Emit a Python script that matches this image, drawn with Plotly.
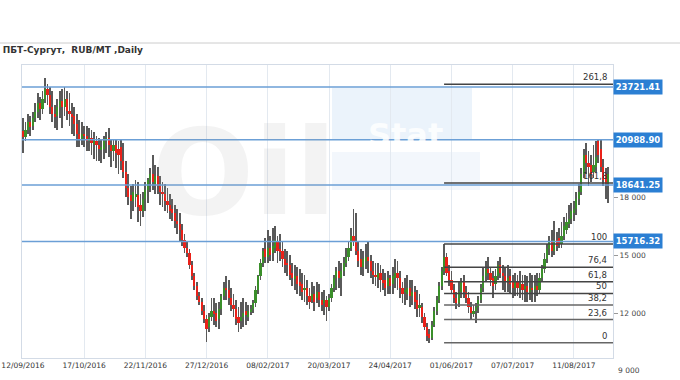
import plotly.graph_objects as go

# ---------------- data (RUB/MT, daily bars) ----------------
opens = [21450,21150,21500,21900,21700,22100,22400,22900,22600,23100,23600,23300,22700,22300,22200,22700,23000,22700,23100,22500,
         22300,22200,21800,21300,21000,21300,21200,20900,21100,20800,20900,20700,20500,20500,20900,21100,20700,20400,20700,20500,
         20600,19900,19300,18500,18100,17800,18000,18100,17600,17300,17900,18400,18900,19200,18700,19100,18600,18300,18200,17800,
         17600,17400,17200,16800,16600,16300,15800,15400,15100,14500,13900,13400,12900,12600,12100,11700,11300,11800,12100,12000,
         11700,12200,12900,13300,13200,12800,12400,12200,11800,11600,11800,12100,11800,12100,12200,12500,13200,13900,14600,15300,
         14900,15400,15100,15400,15700,15300,15200,14800,14600,14500,14100,13800,13900,13600,13500,13200,13300,12900,12700,13000,
         12800,13100,12700,12500,12700,12300,12800,13300,13800,14200,13800,14200,14600,14900,15400,16000,15700,15200,14800,14400,
         14700,14900,14700,14200,14000,13800,14100,13700,13700,13400,13800,13500,13800,14100,13800,13300,13100,13000,13300,12900,
         13100,12700,12300,12300,11800,11300,10900,10700,11400,12100,12700,13400,14200,14900,14200,13700,13200,12800,12500,13100,
         13600,13100,12800,12300,12000,12100,12300,12700,13300,13900,14300,14100,13800,13500,13900,14500,14100,13900,13600,13900,
         13600,13300,13600,13300,13500,13300,13400,13100,13300,13200,13400,13200,13800,14300,14800,15300,15700,15200,15800,15900,
         15600,16000,16300,16600,16900,17200,17400,17900,18300,19200,20200,19800,19700,19300,19600,20900,20500,19600,19200,18700]
highs = [22100,21900,22300,22200,22400,22900,23400,23200,23500,24200,23900,23700,23500,22800,23100,23500,23600,23700,23500,23400,
         22900,22700,22300,22000,21900,21700,21700,21600,21500,21400,21200,21100,21000,21200,21400,21600,21000,21000,21000,20900,
         21000,20800,19900,19200,18600,18700,18900,18800,18200,18300,18800,19000,19500,20200,19700,19600,19100,18800,18700,18500,
         18200,17900,17600,17400,17200,16600,16100,15700,15300,14700,14100,13600,13100,12800,12400,11900,12000,12800,12800,12500,
         12600,13000,13600,13900,13700,13300,13000,12700,12300,12600,12800,12600,12400,12400,12700,13400,14000,14800,15400,15900,
         16300,16000,16400,16500,16000,16100,15700,15300,15200,15000,14600,14500,14400,14300,14100,14000,13700,13300,13600,13400,
         13600,13500,13100,13200,12900,13000,13500,14000,14400,14700,14600,14900,15400,15700,16400,17400,17200,15700,15300,15200,
         15600,15700,15000,14700,14600,14600,14500,14300,14100,14200,14000,14400,14800,14700,14200,13600,13800,14000,13700,13700,
         13400,13200,13000,12500,12000,11500,11200,11600,12300,12900,13600,14400,15580,15100,14500,14200,13500,13100,13600,13800,
         14000,13400,13100,12600,12400,12500,12900,13500,14400,14700,14900,14400,14200,14300,14700,14900,14500,14400,14500,14300,
         14000,14100,14000,14200,14000,14000,13900,14100,14000,14000,14100,14100,14500,15100,15600,16000,16300,16800,16200,16400,
         16700,17000,17200,17600,17700,17800,18300,18700,19500,20500,20800,20400,20200,20700,20900,20990,20990,20000,19500,19600]
lows = [20300,20900,21300,21200,21500,21900,22100,22000,22300,22900,22800,22300,21900,21600,21500,22100,21600,22200,22000,21700,
        21300,21200,20600,20600,20700,20600,20400,20400,20200,20000,19900,19900,19800,20000,20300,20100,19600,19900,19500,19200,
        19400,19000,18000,17600,16900,17300,17500,16700,16500,17000,17300,17700,18300,18400,18200,18200,17600,17500,17300,17200,
        16900,16800,16400,16100,15700,15500,15100,14900,14300,13700,13200,12700,12400,11900,11500,10500,11000,11600,11400,11300,
        11200,11900,12700,12700,12400,12100,11800,11400,11000,11200,11300,11400,11600,11900,12000,12300,13000,13700,14400,14600,
        14600,14700,14700,15100,14600,14700,14400,14100,13900,13700,13400,13200,13000,12900,12700,12600,12400,12200,12500,12100,
        12500,12300,12100,11900,11600,12100,12600,13100,13200,13300,12900,13900,14400,14700,15200,15500,15000,14400,14000,13900,
        14300,14100,13800,13500,13400,13300,13100,13200,12900,13000,13000,13000,13300,13200,12800,12500,12400,12700,12300,12400,
        12200,11800,11800,11500,11100,10550,10460,10600,11300,11900,12500,13200,14000,13900,13400,13000,12500,12200,12300,12800,
        12800,12500,12000,11700,11800,11500,12000,12500,13100,13600,13700,13400,12800,13200,13700,13800,13200,13100,13100,13000,
        12800,12900,12900,12800,12700,12600,12600,12700,12600,12600,12900,13000,13600,14100,14600,15000,14900,15000,15200,15400,
        15400,15800,16100,16400,16600,16800,17100,17600,18100,19000,19200,18600,18800,19000,19300,19800,19300,18600,17900,17700]
closes = [21150,21500,21900,21650,22100,22400,22900,22600,23100,23600,23300,22700,22300,22200,22700,23000,22700,23100,22500,22300,
          22200,21800,21300,21000,21300,21200,20900,21100,20800,20900,20700,20500,20600,20900,21100,20700,20400,20700,20300,20200,
          19900,19300,18500,18000,17800,18300,18200,17500,17300,17900,18400,18900,19200,18800,19100,18600,18300,18200,17800,17600,
          17300,17200,16800,16600,16300,15800,15400,15100,14500,13900,13400,12900,12600,12100,11700,11200,11800,12100,12000,11600,
          12200,12900,13300,13200,12800,12400,12200,11700,11500,11800,12000,11900,12100,12200,12500,13200,13900,14600,15200,14900,
          15400,15000,15500,15800,15200,15200,14800,14500,14500,14000,13800,13900,13500,13400,13100,13300,12900,12600,13000,12600,
          13100,12700,12400,12700,12300,12800,13300,13800,14200,13800,14200,14600,14900,15400,16000,15700,15200,14700,14400,14800,
          14900,14700,14200,14000,13900,14100,13700,13600,13300,13800,13400,13900,14100,13800,13300,13000,13200,13300,12900,13100,
          12600,12200,12400,11800,11300,10800,10700,11400,12100,12700,13400,14200,14900,14100,13700,13200,12800,12500,13100,13600,
          13100,12800,12300,12000,12100,12300,12700,13300,13900,14300,14100,13700,13400,13900,14500,14100,13900,13600,13800,13500,
          13300,13600,13300,13500,13200,13400,13100,13300,13200,13400,13200,13800,14300,14800,15300,15700,15200,15800,15500,15600,
          16000,16500,16700,16900,17300,17400,17900,18300,19200,20200,19800,19600,19200,19700,20100,20200,19600,18900,18700,19200]

date_labels = ["12/09/2016", "17/10/2016", "22/11/2016", "27/12/2016", "08/02/2017",
               "20/03/2017", "24/04/2017", "01/06/2017", "07/07/2017", "11/08/2017"]
label_bars = [0, 25, 50, 75, 100, 125, 150, 175, 200, 225]

level_values = [23721.41, 20988.90, 18641.25, 15716.32]
fib_ratios = [0, 0.236, 0.382, 0.5, 0.618, 0.764, 1.0, 1.618, 2.618]
fib_names = ["0", "23,6", "38,2", "50", "61,8", "76,4", "100", "161,8", "261,8"]
fib_low, fib_high, fib_start = 10460, 15580, 172

y_ticks = [12000, 15000, 18000]
y_tick_text = ["12 000", "15 000", "18 000"]
extra_tick, extra_tick_text = 9000, "9 000"
title_text = "ПБТ-Сургут,  RUB/MT ,Daily"

# ---------------- figure ----------------
n = len(closes)
idx = list(range(n))
YMIN, YMAX = 9673, 24862
XMIN, XMAX = -0.4, 241.0
L, R, T, B = 22, 67, 65, 22
W, H = 680, 380
pw, ph = W - L - R, H - T - B

def px(x):  # pixel -> paper x
    return (x - L) / pw

def py(y):  # pixel -> paper y
    return (H - B - y) / ph

RED, GREEN, WICK = "#ea2119", "#3a8f2a", "#5a5a5a"
FONT = "Verdana, DejaVu Sans, sans-serif"

fig = go.Figure()

# wicks (thin bars, drawn first so bodies sit on top)
fig.add_trace(go.Bar(x=idx, y=[h - l for h, l in zip(highs, lows)], base=lows, width=0.33,
                     marker=dict(color=WICK, line=dict(width=0)), hoverinfo="skip", showlegend=False))
# bodies
base = [min(o, c) for o, c in zip(opens, closes)]
hgt = [max(abs(c - o), 40) for o, c in zip(opens, closes)]
cols = [GREEN if c >= o else RED for o, c in zip(opens, closes)]
fig.add_trace(go.Bar(x=idx, y=hgt, base=base, width=0.9, marker=dict(color=cols, line=dict(width=0)),
                     hoverinfo="skip", showlegend=False))

shapes = []
annos = []

# watermark (faint logo)
annos.append(dict(xref="paper", yref="paper", x=px(150), y=py(172), text="<b>Oil</b>", showarrow=False,
                  font=dict(family="DejaVu Sans", size=120, color="rgba(160,160,160,0.13)")))
shapes.append(dict(type="rect", xref="paper", yref="paper", x0=px(332), x1=px(472), y0=py(140), y1=py(88),
                   fillcolor="rgba(205,225,245,0.4)", line=dict(width=0), layer="below"))
shapes.append(dict(type="rect", xref="paper", yref="paper", x0=px(332), x1=px(480), y0=py(190), y1=py(152),
                   fillcolor="rgba(215,230,246,0.3)", line=dict(width=0), layer="below"))
annos.append(dict(xref="paper", yref="paper", x=px(405), y=py(114), text="<b>Stat</b>", showarrow=False,
                  font=dict(family="DejaVu Sans", size=32, color="rgba(255,255,255,0.85)")))

# blue levels
for v in level_values:
    shapes.append(dict(type="line", xref="paper", yref="y", x0=0, x1=1, y0=v, y1=v,
                       line=dict(color="#6b9fd6", width=1.5), layer="above"))
    annos.append(dict(xref="paper", yref="y", x=1, y=v, xanchor="left", yanchor="middle", xshift=0,
                      text="<b>%.2f</b>" % v, showarrow=False, bgcolor="#2b7fd3",
                      font=dict(family=FONT, size=8.5, color="white"), borderpad=2, width=44, height=10))

# fibonacci levels
for r, name in zip(fib_ratios, fib_names):
    v = fib_low + r * (fib_high - fib_low)
    shapes.append(dict(type="line", xref="x", yref="y", x0=fib_start, x1=XMAX, y0=v, y1=v,
                       line=dict(color="#444444" if r >= 0.5 else "#666666", width=1.5), layer="above"))
    annos.append(dict(xref="paper", yref="y", x=px(609), y=v, xanchor="right", yanchor="bottom", yshift=0,
                      text=name, showarrow=False, font=dict(family=FONT, size=8.5, color="#333333")))

# extra y label outside plot
annos.append(dict(xref="paper", yref="paper", x=1, y=(extra_tick - YMIN) / (YMAX - YMIN), xanchor="left",
                  yanchor="middle", xshift=3, text=extra_tick_text, showarrow=False,
                  font=dict(family=FONT, size=7.5, color="#444444")))

# top separator
shapes.append(dict(type="line", xref="paper", yref="paper", x0=px(0), x1=px(W), y0=py(43), y1=py(43),
                   line=dict(color="#cccccc", width=1)))

fig.update_layout(
    width=W, height=H, margin=dict(l=L, r=R, t=T, b=B, autoexpand=False),
    paper_bgcolor="white", plot_bgcolor="white",
    barmode="overlay", bargap=0, showlegend=False,
    title=dict(text="<b>" + title_text + "</b>", x=0.004, xanchor="left", xref="container",
               y=1 - 50 / H, yanchor="middle", yref="container",
               font=dict(family=FONT, size=9, color="#333333")),
    shapes=shapes, annotations=annos,
    xaxis=dict(range=[XMIN, XMAX], tickvals=label_bars, ticktext=date_labels, showgrid=True,
               gridcolor="#e3e9f0", gridwidth=1, zeroline=False, showline=True, linecolor="#d3dbe6",
               mirror=True, ticks="", automargin=False,
               tickfont=dict(family=FONT, size=7.5, color="#333333")),
    yaxis=dict(range=[YMIN, YMAX], side="right", tickvals=y_ticks, ticktext=y_tick_text, showgrid=False,
               zeroline=False, showline=True, linecolor="#d3dbe6", mirror=True, ticks="outside",
               ticklen=4, tickcolor="#999999", automargin=False,
               tickfont=dict(family=FONT, size=7.5, color="#444444")),
)

fig.write_html("out.html")
